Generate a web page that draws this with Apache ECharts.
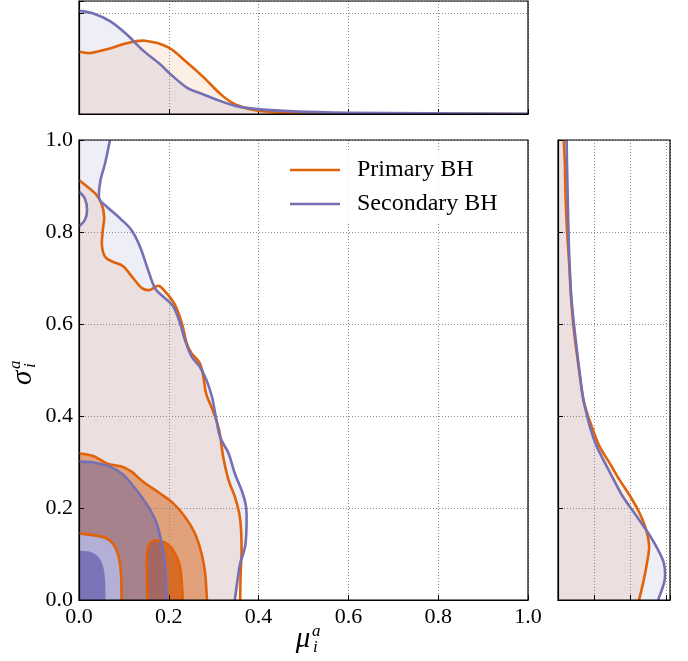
<!DOCTYPE html>
<html>
<head>
<meta charset="utf-8">
<script src="https://cdn.jsdelivr.net/npm/echarts@6/dist/echarts.min.js"></script>
<style>
  html, body { margin: 0; padding: 0; background: #fff; }
  #chart { width: 688px; height: 661px; }
</style>
</head>
<body>
<div id="chart"></div>
<script>
// ---------------- data ----------------
// marginal density of mu (x: mu, y: density)
const primaryMuDensity = [[0,3.09],[0.025,3.02],[0.069,3.25],[0.106,3.51],[0.147,3.63],[0.199,3.30],[0.24,2.56],[0.277,1.83],[0.314,1.01],[0.344,0.52],[0.373,0.28],[0.403,0.15],[0.477,0.03],[0.6,0.01],[0.8,0.005],[1,0.003]];
const secondaryMuDensity = [[0,5.12],[0.032,4.98],[0.069,4.6],[0.106,3.95],[0.143,3.14],[0.18,2.48],[0.199,2.07],[0.24,1.31],[0.277,0.97],[0.314,0.65],[0.351,0.39],[0.403,0.23],[0.477,0.13],[0.596,0.06],[0.774,0.03],[1,0.01]];

// marginal density of sigma (x: density, y: sigma)
const primarySigmaDensity = [[2.25,0],[2.38,0.043],[2.47,0.08],[2.53,0.116],[2.45,0.152],[2.27,0.188],[2.01,0.225],[1.71,0.261],[1.44,0.297],[1.16,0.333],[0.97,0.37],[0.81,0.406],[0.69,0.442],[0.56,0.514],[0.44,0.587],[0.36,0.659],[0.31,0.732],[0.25,0.804],[0.21,0.877],[0.19,0.949],[0.16,1.0]];
const secondarySigmaDensity = [[2.78,0],[2.96,0.043],[2.94,0.08],[2.73,0.116],[2.45,0.152],[2.13,0.188],[1.8,0.225],[1.55,0.261],[1.31,0.297],[1.08,0.333],[0.91,0.37],[0.79,0.406],[0.69,0.442],[0.57,0.514],[0.46,0.587],[0.37,0.659],[0.32,0.732],[0.29,0.804],[0.27,0.877],[0.25,0.949],[0.24,1.0]];

// joint (mu, sigma) credible contours, primary BH
const primaryLevel1 = [[0,0.913],[0.036,0.884],[0.05,0.862],[0.056,0.833],[0.053,0.804],[0.051,0.772],[0.058,0.746],[0.076,0.735],[0.099,0.725],[0.121,0.699],[0.14,0.678],[0.158,0.674],[0.177,0.683],[0.195,0.667],[0.214,0.641],[0.229,0.602],[0.24,0.558],[0.251,0.536],[0.269,0.515],[0.277,0.486],[0.283,0.449],[0.298,0.412],[0.312,0.37],[0.321,0.312],[0.333,0.261],[0.347,0.225],[0.357,0.188],[0.361,0.152],[0.362,0.101],[0.36,0.058],[0.359,0]];
const primaryLevel2 = [[0,0.319],[0.032,0.313],[0.062,0.297],[0.095,0.29],[0.117,0.279],[0.143,0.257],[0.18,0.232],[0.21,0.21],[0.236,0.181],[0.258,0.145],[0.273,0.101],[0.281,0.058],[0.285,0]];
const primaryLevel3a = [[0,0.145],[0.032,0.141],[0.062,0.134],[0.08,0.116],[0.09,0.087],[0.094,0.051],[0.095,0]];
const primaryLevel3b = [[0.152,0],[0.151,0.065],[0.152,0.109],[0.162,0.127],[0.18,0.129],[0.199,0.12],[0.214,0.101],[0.225,0.072],[0.229,0.036],[0.231,0]];

// joint (mu, sigma) credible contours, secondary BH
const secondaryLevel1Notch = [[0,0.812],[0.013,0.826],[0.018,0.848],[0.013,0.873],[0,0.888]];
const secondaryLevel1 = [[0.069,1.0],[0.058,0.949],[0.048,0.913],[0.045,0.873],[0.062,0.855],[0.091,0.83],[0.117,0.804],[0.136,0.768],[0.154,0.717],[0.169,0.678],[0.188,0.659],[0.21,0.638],[0.225,0.602],[0.236,0.565],[0.251,0.529],[0.269,0.507],[0.284,0.478],[0.296,0.442],[0.302,0.413],[0.314,0.355],[0.333,0.319],[0.347,0.275],[0.362,0.239],[0.372,0.203],[0.373,0.159],[0.37,0.116],[0.359,0.08],[0.353,0.043],[0.347,0]];
const secondaryLevel2 = [[0,0.301],[0.032,0.299],[0.069,0.29],[0.099,0.272],[0.128,0.239],[0.154,0.203],[0.173,0.167],[0.184,0.123],[0.192,0.072],[0.195,0]];
const secondaryLevel3 = [[0,0.142],[0.032,0.138],[0.061,0.131],[0.079,0.114],[0.088,0.086],[0.092,0.05],[0.093,0]];
const secondaryLevel4 = [[0,0.107],[0.024,0.105],[0.043,0.094],[0.054,0.072],[0.058,0.043],[0.059,0]];

// corners of the unit (mu, sigma) square used to close filled regions
const ORIGIN = [0, 0];
const SIGMA_TOP = [0, 1];
const MU_END = [1, 0];

// ---------------- styling ----------------
const ORANGE = '#e0620a';
const PURPLE = '#7570b3';
const SERIF = '"Liberation Serif", "Times New Roman", serif';
const LINE_W = 2.6;

// ---------------- drawing helpers ----------------
// flatten a list of parts into rows [x, y, partIndex]
function toRows(parts) {
  const rows = [];
  parts.forEach((p, k) => p.forEach(pt => rows.push([pt[0], pt[1], k])));
  return rows;
}

// Catmull-Rom spline through pixel points, as cubic bezier commands
function curveTo(pts) {
  let d = '';
  for (let i = 0; i < pts.length - 1; i++) {
    const p0 = pts[Math.max(i - 1, 0)], p1 = pts[i], p2 = pts[i + 1], p3 = pts[Math.min(i + 2, pts.length - 1)];
    const c1x = p1[0] + (p2[0] - p0[0]) / 6, c1y = p1[1] + (p2[1] - p0[1]) / 6;
    const c2x = p2[0] - (p3[0] - p1[0]) / 6, c2y = p2[1] - (p3[1] - p1[1]) / 6;
    d += ' C ' + c1x + ' ' + c1y + ' ' + c2x + ' ' + c2y + ' ' + p2[0] + ' ' + p2[1];
  }
  return d;
}

function partsRenderer(closed, color, width, count) {
  return function (params, api) {
    if (params.dataIndexInside !== 0) return null;
    const n = params.dataInsideLength != null ? params.dataInsideLength : count;
    const groups = [];
    for (let i = 0; i < n; i++) {
      const k = api.value(2, i);
      (groups[k] = groups[k] || []).push(api.coord([api.value(0, i), api.value(1, i)]));
    }
    let d = '';
    groups.forEach((g, gi) => {
      d += ((closed && gi > 0) ? ' L ' : ' M ') + g[0][0] + ' ' + g[0][1];
      d += curveTo(g);
    });
    if (closed) d += ' Z';
    return {
      type: 'path',
      shape: { pathData: d },
      style: closed
        ? { fill: color, stroke: 'none' }
        : { fill: 'none', stroke: color, lineWidth: width, lineJoin: 'round', lineCap: 'butt' }
    };
  };
}

const series = [];
function addFill(name, axisIdx, parts, color) {
  const data = toRows(parts);
  series.push({
    type: 'custom', name, xAxisIndex: axisIdx, yAxisIndex: axisIdx, z: 2, clip: true, silent: true,
    itemStyle: { color: name === 'Primary BH' ? ORANGE : PURPLE },
    data, renderItem: partsRenderer(true, color, 0, data.length)
  });
}
function addStroke(name, axisIdx, parts, color) {
  const data = toRows(parts);
  series.push({
    type: 'custom', name, xAxisIndex: axisIdx, yAxisIndex: axisIdx, z: 4, clip: true, silent: true,
    itemStyle: { color },
    data, renderItem: partsRenderer(false, color, LINE_W, data.length)
  });
}

// ---- fills (primary first, secondary over it) ----
const oFill1 = 'rgba(228,97,3,0.10)';
const oFill2 = 'rgba(228,97,3,0.50)';
const oFill3 = 'rgba(228,97,3,0.85)';
const pFill1 = 'rgba(117,112,179,0.12)';
const pFill2 = 'rgba(110,100,160,0.50)';
const pFill3 = '#b4afd6';
const pFill4 = '#7a75b8';

// marginal of mu (grid 0)
addFill('Primary BH', 0, [primaryMuDensity, [MU_END, ORIGIN]], oFill1);
addFill('Secondary BH', 0, [secondaryMuDensity, [MU_END, ORIGIN]], pFill1);
// marginal of sigma (grid 2)
addFill('Primary BH', 2, [primarySigmaDensity, [SIGMA_TOP, ORIGIN]], oFill1);
addFill('Secondary BH', 2, [secondarySigmaDensity, [SIGMA_TOP, ORIGIN]], pFill1);
// joint contours (grid 1)
addFill('Primary BH', 1, [[ORIGIN], primaryLevel1], oFill1);
addFill('Primary BH', 1, [[ORIGIN], primaryLevel2], oFill2);
addFill('Primary BH', 1, [[ORIGIN], primaryLevel3a], oFill3);
addFill('Primary BH', 1, [primaryLevel3b], oFill3);
addFill('Secondary BH', 1, [[ORIGIN], secondaryLevel1Notch, [SIGMA_TOP], secondaryLevel1], pFill1);
addFill('Secondary BH', 1, [[ORIGIN], secondaryLevel2], pFill2);
addFill('Secondary BH', 1, [[ORIGIN], secondaryLevel3], pFill3);
addFill('Secondary BH', 1, [[ORIGIN], secondaryLevel4], pFill4);

// ---- outlines ----
addStroke('Primary BH', 0, [primaryMuDensity], ORANGE);
addStroke('Secondary BH', 0, [secondaryMuDensity], PURPLE);
addStroke('Primary BH', 2, [primarySigmaDensity], ORANGE);
addStroke('Secondary BH', 2, [secondarySigmaDensity], PURPLE);
addStroke('Primary BH', 1, [primaryLevel1], ORANGE);
addStroke('Primary BH', 1, [primaryLevel2], ORANGE);
addStroke('Primary BH', 1, [primaryLevel3a], ORANGE);
addStroke('Primary BH', 1, [primaryLevel3b], ORANGE);
addStroke('Secondary BH', 1, [secondaryLevel1Notch], PURPLE);
addStroke('Secondary BH', 1, [secondaryLevel1], PURPLE);
addStroke('Secondary BH', 1, [secondaryLevel2], PURPLE);

// ---------------- axes ----------------
function valueAxis(gridIndex, min, max, interval, showLabel) {
  return {
    type: 'value', gridIndex, min, max, interval, z: 3,
    axisLine: { show: true, onZero: false, lineStyle: { color: '#000', width: 1.2 } },
    axisTick: { show: true, inside: true, length: 5, lineStyle: { color: '#000', width: 1 } },
    axisLabel: {
      show: showLabel, color: '#000', fontFamily: SERIF, fontSize: 22, margin: 6,
      formatter: v => v.toFixed(1)
    },
    splitLine: { show: true, lineStyle: { color: '#8c8c8c', width: 1, type: [1, 2] } }
  };
}

const frame = { show: true, borderColor: '#000', borderWidth: 1.2, backgroundColor: 'transparent', z: 10 };

const option = {
  animation: false,
  backgroundColor: '#fff',
  grid: [
    Object.assign({ left: 79, top: 1, width: 449, height: 113 }, frame),
    Object.assign({ left: 79, top: 140, width: 449, height: 460 }, frame),
    Object.assign({ left: 558, top: 140, width: 112, height: 460 }, frame)
  ],
  xAxis: [
    valueAxis(0, 0, 1, 0.2, false),
    valueAxis(1, 0, 1, 0.2, true),
    valueAxis(2, 0, 3.11, 1, false)
  ],
  yAxis: [
    valueAxis(0, 0, 5.6, 5, false),
    valueAxis(1, 0, 1, 0.2, true),
    valueAxis(2, 0, 1, 0.2, false)
  ],
  legend: {
    orient: 'vertical', left: 280, top: 151, z: 6,
    itemWidth: 50, itemHeight: 2.6, itemGap: 8,
    padding: [6, 14, 6, 10],
    backgroundColor: 'rgba(255,255,255,0.8)',
    selectedMode: false,
    textStyle: { fontFamily: SERIF, fontSize: 24, color: '#000', lineHeight: 26, padding: [0, 0, 0, 12] },
    data: [
      { name: 'Primary BH', icon: 'rect', itemStyle: { color: ORANGE } },
      { name: 'Secondary BH', icon: 'rect', itemStyle: { color: PURPLE } }
    ]
  },
  graphic: [
    // x axis title: mu_i^a
    { type: 'text', x: 303, y: 639, z: 20, style: { text: 'μ', font: 'italic 29px ' + SERIF, fill: '#000', align: 'center', verticalAlign: 'middle' } },
    { type: 'text', x: 312, y: 632, z: 20, style: { text: 'a', font: 'italic 17px ' + SERIF, fill: '#000', align: 'left', verticalAlign: 'middle' } },
    { type: 'text', x: 313, y: 648, z: 20, style: { text: 'i', font: 'italic 17px ' + SERIF, fill: '#000', align: 'left', verticalAlign: 'middle' } },
    // y axis title: sigma_i^a, rotated
    {
      type: 'group', x: 32, y: 385, rotation: Math.PI / 2, z: 20,
      children: [
        { type: 'text', x: 0, y: -9, style: { text: 'σ', font: 'italic 29px ' + SERIF, fill: '#000', align: 'left', verticalAlign: 'middle' } },
        { type: 'text', x: 16, y: -16, style: { text: 'a', font: 'italic 17px ' + SERIF, fill: '#000', align: 'left', verticalAlign: 'middle' } },
        { type: 'text', x: 17, y: -1, style: { text: 'i', font: 'italic 17px ' + SERIF, fill: '#000', align: 'left', verticalAlign: 'middle' } }
      ]
    }
  ],
  series
};

const chart = echarts.init(document.getElementById('chart'), null, { renderer: 'canvas' });
chart.setOption(option);
</script>
</body>
</html>
